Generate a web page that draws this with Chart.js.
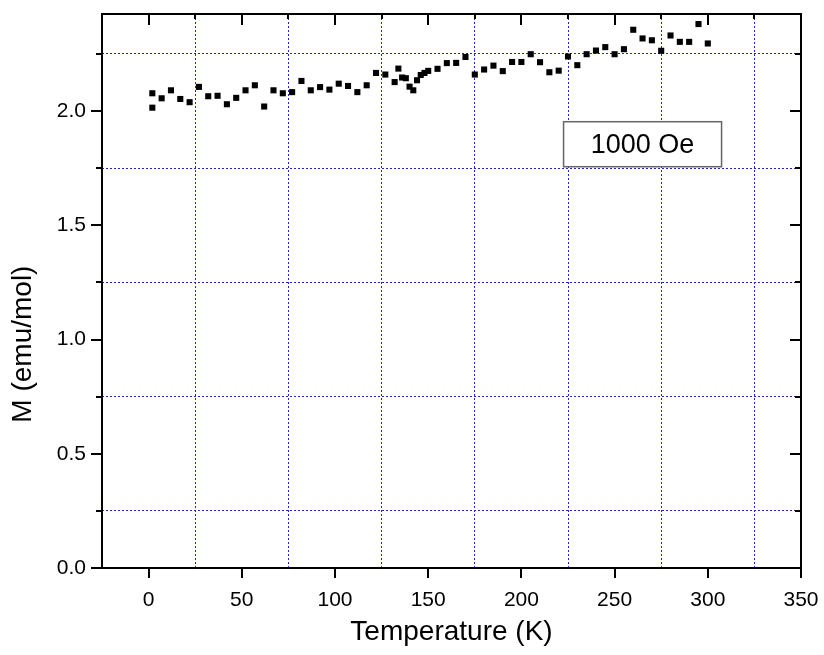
<!DOCTYPE html>
<html>
<head>
<meta charset="utf-8">
<script src="https://cdn.jsdelivr.net/npm/chart.js@4.4.1/dist/chart.umd.min.js"></script>
<style>
  body { margin: 0; background: #fff; }
  .chartBox { width: 824px; height: 655px; }
</style>
</head>
<body>
<div class="chartBox"><canvas id="myChart"></canvas></div>
<script>
// temperature (K) and magnetisation M (emu/mol)
var temps = [2, 2, 7, 12, 17, 22, 27, 32, 37, 42, 47, 52, 57, 62, 67, 72, 77, 82, 87, 92,
  97, 102, 107, 112, 117, 122, 127, 132, 134, 136, 138, 140, 142, 144, 146, 148, 150, 155, 160, 165,
  170, 175, 180, 185, 190, 195, 200, 205, 210, 215, 220, 225, 230, 235, 240, 245, 250, 255, 260, 265,
  270, 275, 280, 285, 290, 295, 300];
var moments = [2.078, 2.015, 2.056, 2.091, 2.053, 2.039, 2.106, 2.065, 2.067, 2.030, 2.058, 2.091, 2.113, 2.020, 2.091, 2.078, 2.083, 2.132, 2.091, 2.105,
  2.094, 2.120, 2.110, 2.083, 2.113, 2.167, 2.160, 2.127, 2.186, 2.147, 2.144, 2.107, 2.091, 2.135, 2.158, 2.167, 2.176, 2.185, 2.210, 2.211,
  2.237, 2.160, 2.182, 2.199, 2.175, 2.215, 2.215, 2.249, 2.214, 2.170, 2.177, 2.239, 2.201, 2.249, 2.265, 2.280, 2.249, 2.271, 2.356, 2.318,
  2.310, 2.264, 2.331, 2.303, 2.303, 2.381, 2.296];

var xMin = -25, xMax = 350, xStep = 25;
var yMin = 0, yMax = 2.425, yStep = 0.25;
var fieldLabel = '1000 Oe';
var fieldPos = [265, 1.855];
var yTitle = 'M (emu/mol)';
var yTitleAt = 0.98;   // Origin put the y title a bit below the axis centre

var fontFam = "'Liberation Sans', Arial, sans-serif";
var gridBlue = '#2626b8';

function isMajorX(v) { return v >= 0 && v % 50 === 0; }
function quarter(v) { var q = v * 4; return Math.abs(q - Math.round(q)) < 1e-6 ? Math.round(q) : null; }
function isMajorY(v) { var q = quarter(v); return q !== null && q % 2 === 0; }
function isMinorY(v) { var q = quarter(v); return q !== null && q % 2 === 1; }

var points = temps.map(function(t, i) { return {x: t, y: moments[i]}; });

// frame, inward/outward tick marks, y title and the field label box
var frameTicks = {
  id: 'frameTicks',
  afterDraw: function(chart) {
    var ctx = chart.ctx, a = chart.chartArea;
    var x = chart.scales.x, y = chart.scales.y;
    ctx.save();
    ctx.strokeStyle = '#000';
    ctx.lineWidth = 2;
    ctx.beginPath();
    x.ticks.forEach(function(t) {
      var v = t.value;
      if (v <= xMin || (v >= xMax && !isMajorX(v))) return;
      var px = Math.round(x.getPixelForValue(v));
      if (isMajorX(v)) {
        ctx.moveTo(px, a.bottom); ctx.lineTo(px, a.bottom + 10);
        ctx.moveTo(px, a.top); ctx.lineTo(px, a.top + 11);
      } else {
        ctx.moveTo(px, a.top); ctx.lineTo(px, a.top + 5);
      }
    });
    y.ticks.forEach(function(t) {
      var v = t.value;
      if (!isMajorY(v) && !isMinorY(v)) return;
      var py = Math.round(y.getPixelForValue(v));
      var len = isMajorY(v) ? 11 : 6;
      ctx.moveTo(a.left - len, py); ctx.lineTo(a.left, py);
      ctx.moveTo(a.right, py); ctx.lineTo(a.right - len, py);
    });
    ctx.stroke();
    ctx.strokeRect(a.left, a.top, a.right - a.left, a.bottom - a.top);

    // y axis title
    ctx.fillStyle = '#000';
    ctx.font = '28px ' + fontFam;
    ctx.textAlign = 'center';
    ctx.textBaseline = 'middle';
    ctx.save();
    ctx.translate(23, y.getPixelForValue(yTitleAt));
    ctx.rotate(-Math.PI / 2);
    ctx.fillText(yTitle, 0, 0);
    ctx.restore();

    // legend style text box
    var cx = x.getPixelForValue(fieldPos[0]);
    var cy = y.getPixelForValue(fieldPos[1]);
    var w = 158, h = 45;
    ctx.fillStyle = '#fff';
    ctx.fillRect(cx - w / 2, cy - h / 2, w, h);
    ctx.strokeStyle = '#666';
    ctx.lineWidth = 1.5;
    ctx.strokeRect(cx - w / 2, cy - h / 2, w, h);
    ctx.fillStyle = '#000';
    ctx.font = '27px ' + fontFam;
    ctx.fillText(fieldLabel, cx, cy + 1);
    ctx.restore();
  }
};

var ctx = document.getElementById('myChart').getContext('2d');
var myChart = new Chart(ctx, {
  type: 'scatter',
  data: {
    datasets: [{
      label: 'M',
      data: points,
      pointStyle: 'rect',
      pointRadius: 4.3,
      pointBorderWidth: 0,
      backgroundColor: '#000',
      borderColor: '#000'
    }]
  },
  options: {
    responsive: true,
    maintainAspectRatio: false,
    animation: false,
    layout: { padding: { top: 14, right: 23, left: 0, bottom: 0 } },
    plugins: { legend: { display: false }, tooltip: { enabled: false } },
    scales: {
      x: {
        type: 'linear',
        min: xMin, max: xMax,
        afterFit: function(s) { s.height = 87; s.paddingLeft = 0; s.paddingRight = 0; },
        border: { display: false, dash: [2, 2] },
        grid: {
          drawTicks: false,
          lineWidth: 1,
          color: function(c) {
            var v = c.tick ? c.tick.value : null;
            return (v !== null && v > xMin && v < xMax && !isMajorX(v)) ? gridBlue : 'rgba(0,0,0,0)';
          }
        },
        ticks: {
          stepSize: xStep,
          autoSkip: false,
          maxRotation: 0,
          padding: 20,
          color: '#000',
          font: { family: fontFam, size: 21 },
          callback: function(v) { return isMajorX(v) ? String(v) : ''; }
        },
        title: {
          display: true,
          text: 'Temperature (K)',
          color: '#000',
          font: { family: fontFam, size: 28 },
          padding: { top: 0, bottom: 6 }
        }
      },
      y: {
        type: 'linear',
        min: yMin, max: yMax,
        afterFit: function(s) { s.width = 102; s.paddingTop = 0; s.paddingBottom = 0; },
        border: { display: false, dash: [2, 2] },
        grid: {
          drawTicks: false,
          lineWidth: 1,
          color: function(c) {
            var v = c.tick ? c.tick.value : null;
            return (v !== null && isMinorY(v)) ? gridBlue : 'rgba(0,0,0,0)';
          }
        },
        ticks: {
          stepSize: yStep,
          autoSkip: false,
          padding: 16,
          color: '#000',
          font: { family: fontFam, size: 21 },
          callback: function(v) { return isMajorY(v) ? v.toFixed(1) : ''; }
        }
      }
    }
  },
  plugins: [frameTicks]
});
</script>
</body>
</html>
